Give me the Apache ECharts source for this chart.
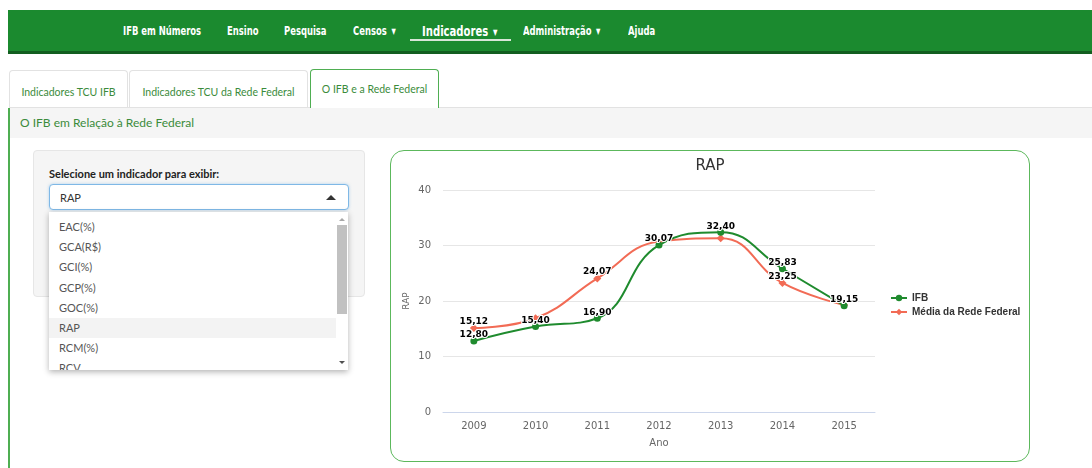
<!DOCTYPE html>
<html>
<head>
<meta charset="utf-8">
<script src="https://cdn.jsdelivr.net/npm/echarts@6/dist/echarts.min.js"></script>
<style>
  body { margin: 0; background: #fff; font-family: Lato, "Open Sans", sans-serif; }
  .abs { position: absolute; }
  #nav { left: 8px; right: 0; top: 10px; height: 41px; background: #1b8a2f; border-bottom: 3px solid #135e20; }
  .nav-item { position: absolute; top: 0; line-height: 43px; color: #fff; font-weight: bold; font-size: 12px;
    font-family: "DejaVu Sans Condensed", sans-serif; white-space: nowrap;
    transform: scaleX(0.78); transform-origin: left center; }
  .nav-item.big { font-size: 14px; transform: scaleX(0.8); }
  .caret { font-size: 8px; vertical-align: middle; margin-left: 6px; }
  #navline { left: 410px; top: 39px; width: 101px; height: 2px; background: #d8e6d8; }
  .tab { position: absolute; top: 70px; height: 36px; border: 1px solid #e2e2e2; border-bottom: none; border-radius: 4px 4px 0 0;
    background: #fff; color: #3b8b3b; font-size: 10.5px; line-height: 42px; text-align: center; }
  .tab.active { top: 69px; height: 38px; border: 1px solid #4fae52; border-bottom: none; line-height: 38px; }
  #tabline { left: 9px; right: 0; top: 107px; height: 1px; background: #e2e2e2; }
  #panelhead { left: 10px; right: 0; top: 108px; height: 30px; background: #f5f5f5; color: #3b8b3b; font-size: 12px; line-height: 30px; padding-left: 10px; }
  #panelleft { left: 8px; top: 108px; width: 2px; height: 360px; background: #4fae52; }
  #well { left: 33px; top: 150px; width: 330px; height: 145px; background: #f5f5f5; border: 1px solid #e6e6e6; border-radius: 4px; }
  #lbl { left: 49px; top: 167px; font-weight: bold; font-size: 11px; color: #222; }
  #sel { left: 49px; top: 184px; height: 24px; background: #fff; border: 1px solid #7fb8e6; border-radius: 4px;
    box-shadow: 0 0 3px rgba(102,175,233,.5); font-size: 11px; color: #333; line-height: 25px; padding-left: 10px; width: 288px; }
  #selcaret { left: 326px; top: 195px; width: 0; height: 0; border-left: 5px solid transparent; border-right: 5px solid transparent; border-bottom: 5px solid #333; }
  #drop { left: 49px; top: 212px; width: 299px; height: 158px; background: #fff; box-shadow: 0 2px 6px rgba(0,0,0,.3); overflow: hidden; }
  .opt { position: absolute; left: 0; width: 286px; height: 20px; line-height: 20px; padding-left: 10px; font-size: 11px; color: #555; }
  .opt.hl { background: #f3f3f3; }
  #sbar { left: 336px; top: 212px; width: 12px; height: 158px; background: #fff; }
  #sthumb { left: 337px; top: 225px; width: 10px; height: 89px; background: #c1c1c1; }
  #sup { left: 339px; top: 218px; border-left: 3px solid transparent; border-right: 3px solid transparent; border-bottom: 3px solid #a8a8a8; width: 0; height: 0; }
  #sdown { left: 339px; top: 361px; border-left: 3px solid transparent; border-right: 3px solid transparent; border-top: 3px solid #505050; width: 0; height: 0; }
  #chartbox { left: 390px; top: 150px; width: 638px; height: 310px; border: 1px solid #5cb85c; border-radius: 14px; background: #fff; }
  #main { position: absolute; left: 0; top: 0; width: 638px; height: 310px; }
</style>
</head>
<body>
<div id="nav" class="abs">
  <div class="nav-item" style="left:115px">IFB em Números</div>
  <div class="nav-item" style="left:219px">Ensino</div>
  <div class="nav-item" style="left:276px">Pesquisa</div>
  <div class="nav-item" style="left:345px">Censos<span class="caret">▼</span></div>
  <div class="nav-item big" style="left:414px">Indicadores<span class="caret">▼</span></div>
  <div class="nav-item" style="left:515px">Administração<span class="caret">▼</span></div>
  <div class="nav-item" style="left:620px">Ajuda</div>
</div>
<div id="navline" class="abs"></div>

<div id="tabline" class="abs"></div>
<div class="tab" style="left:9px;width:117px">Indicadores TCU IFB</div>
<div class="tab" style="left:129px;width:177px">Indicadores TCU da Rede Federal</div>
<div class="tab active" style="left:310px;width:127px">O IFB e a Rede Federal</div>
<div id="panelhead" class="abs">O IFB em Relação à Rede Federal</div>
<div id="panelleft" class="abs"></div>

<div id="well" class="abs"></div>
<div id="lbl" class="abs">Selecione um indicador para exibir:</div>
<div id="sel" class="abs">RAP</div>
<div id="selcaret" class="abs"></div>
<div id="drop" class="abs"></div>
<div id="sbar" class="abs"></div>
<div id="sthumb" class="abs"></div>
<div id="sup" class="abs"></div>
<div id="sdown" class="abs"></div>

<div id="chartbox" class="abs"><div id="main"></div></div>

<script>
// opções do select
var indicadores = ['EAC(%)', 'GCA(R$)', 'GCI(%)', 'GCP(%)', 'GOC(%)', 'RAP', 'RCM(%)', 'RCV'];
var selecionado = 'RAP';

var drop = document.getElementById('drop');
indicadores.forEach(function(nome, i) {
    var d = document.createElement('div');
    d.className = 'opt' + (nome === selecionado ? ' hl' : '');
    d.style.top = (5 + i * 20.2) + 'px';
    d.textContent = nome;
    drop.appendChild(d);
});

// dados do grafico
var anos = ['2009', '2010', '2011', '2012', '2013', '2014', '2015'];
var ifb = [12.80, 15.40, 16.90, 30.07, 32.40, 25.83, 19.15];
var mediaRede = [15.12, 16.90, 24.07, 30.70, 31.30, 23.25, 19.30];
// rotulos visiveis da media (os outros ficam escondidos por sobreposicao)
var mediaRotulos = [true, false, true, false, false, true, false];

var fmt = function(p) {
    return Number(p.value).toFixed(2).replace('.', ',');
};

var labelStyle = {
    show: true,
    position: 'top',
    distance: -2,
    formatter: fmt,
    color: '#000',
    fontSize: 9,
    fontWeight: 'bold',
    fontFamily: 'DejaVu Sans',
    textBorderColor: '#fff',
    textBorderWidth: 2
};

var myChart = echarts.init(document.getElementById('main'));
myChart.setOption({
    animation: false,
    title: {
        text: 'RAP',
        left: 'center',
        top: 3,
        textStyle: { color: '#333', fontSize: 15, fontWeight: 'normal', fontFamily: 'DejaVu Sans' }
    },
    legend: {
        orient: 'vertical',
        left: 494,
        top: 137,
        itemWidth: 16,
        itemHeight: 8,
        itemGap: 4,
        data: ['IFB', 'Média da Rede Federal'],
        textStyle: { color: '#333', fontWeight: 'bold', fontSize: 10, fontFamily: 'Liberation Sans' }
    },
    grid: { left: 52, top: 39, width: 432, height: 222 },
    xAxis: {
        type: 'category',
        data: anos,
        name: 'Ano',
        nameLocation: 'middle',
        nameGap: 26,
        nameTextStyle: { color: '#666', fontSize: 10, fontFamily: 'DejaVu Sans' },
        axisLine: { lineStyle: { color: '#ccd6eb' } },
        axisTick: { length: 8, lineStyle: { color: '#ccd6eb' } },
        axisLabel: { color: '#666', fontSize: 10, margin: 9, fontFamily: 'DejaVu Sans' }
    },
    yAxis: {
        type: 'value',
        min: 0,
        max: 40,
        interval: 10,
        name: 'RAP',
        nameLocation: 'middle',
        nameGap: 32,
        nameMoveOverlap: false,
        nameTextStyle: { color: '#666', fontSize: 9, fontFamily: 'DejaVu Sans' },
        axisLine: { show: false },
        axisLabel: { color: '#666', fontSize: 10, margin: 12, fontFamily: 'DejaVu Sans' },
        splitLine: { lineStyle: { color: '#e6e6e6' } }
    },
    series: [
        {
            name: 'Média da Rede Federal',
            type: 'line',
            smooth: 0.45,
            symbol: 'diamond',
            symbolSize: 8,
            itemStyle: { color: '#f26b55' },
            lineStyle: { width: 2, color: '#f26b55' },
            data: mediaRede.map(function(v, i) {
                return { value: v, label: Object.assign({}, labelStyle, { show: mediaRotulos[i] }) };
            })
        },
        {
            name: 'IFB',
            type: 'line',
            smooth: 0.45,
            symbol: 'circle',
            symbolSize: 7,
            itemStyle: { color: '#1f8b2e' },
            lineStyle: { width: 2, color: '#1f8b2e' },
            label: labelStyle,
            data: ifb
        }
    ]
});
</script>
</body>
</html>
